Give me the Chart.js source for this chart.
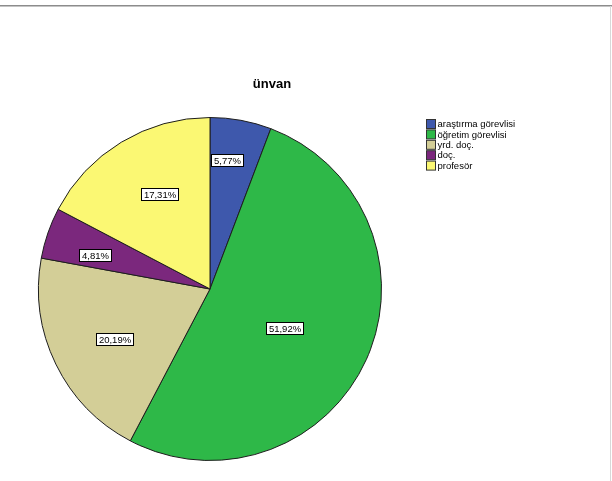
<!DOCTYPE html>
<html>
<head>
<meta charset="utf-8">
<title>ünvan</title>
<script src="https://cdn.jsdelivr.net/npm/chart.js@4/dist/chart.umd.min.js"></script>
<style>
    html, body {
        margin: 0;
        padding: 0;
        background: #ffffff;
    }
    #wrap {
        position: relative;
        width: 612px;
        height: 481px;
    }
</style>
</head>
<body>
<div id="wrap">
    <canvas id="pieChart" width="612" height="481"></canvas>
</div>
<script>
/*
  ünvan - pie chart
*/

const chartTitle = "ünvan"

const categories = [
    "araştırma görevlisi",
    "öğretim görevlisi",
    "yrd. doç.",
    "doç.",
    "profesör"
]

// frequencies (n = 104)
const counts = [6, 54, 21, 5, 18]

const sliceColors = ["#3e58ac", "#2eb848", "#d3ce97", "#7b287d", "#fbf873"]

// where each percent box sits inside its slice: [share of the arc, share of the radius]
const labelPlacement = [
    [0.36, 0.76],
    [0.52, 0.49],
    [0.48, 0.63],
    [0.35, 0.70],
    [0.55, 0.63]
]

const total = counts.reduce((a, b) => a + b, 0)

function percentText(v) {
    return (v / total * 100).toFixed(2).replace(".", ",") + "%"
}

const FONT = "'Liberation Sans', Arial, sans-serif"

const framePlugin = {
    id: "frame",
    beforeDraw(chart) {
        const ctx = chart.ctx
        ctx.save()
        ctx.fillStyle = "#ffffff"
        ctx.fillRect(0, 0, chart.width, chart.height)

        ctx.fillStyle = "#8c8c8c"
        ctx.fillRect(0, 5, chart.width, 1)
        ctx.fillStyle = "#c4c4c4"
        ctx.fillRect(0, 6, chart.width, 1)

        ctx.fillStyle = "#d8d8d8"
        ctx.fillRect(610, 6, 1, chart.height - 6)
        ctx.restore()
    }
}

const decorPlugin = {
    id: "decor",
    afterDraw(chart) {
        const ctx = chart.ctx
        ctx.save()

        // title
        ctx.fillStyle = "#000000"
        ctx.font = "bold 13px " + FONT
        ctx.textAlign = "center"
        ctx.textBaseline = "middle"
        ctx.fillText(chartTitle, 272, 84)

        // legend
        ctx.font = "9.5px " + FONT
        ctx.textAlign = "left"
        categories.forEach((name, i) => {
            const y = 124 + i * 10.4
            ctx.fillStyle = sliceColors[i]
            ctx.fillRect(426.5, y - 4.5, 9, 9)
            ctx.strokeStyle = "#333333"
            ctx.lineWidth = 1
            ctx.strokeRect(426.5, y - 4.5, 9, 9)
            ctx.fillStyle = "#000000"
            ctx.fillText(name, 437.5, y + 0.5)
        })

        // percent boxes
        const meta = chart.getDatasetMeta(0)
        ctx.font = "9.5px " + FONT
        ctx.textAlign = "center"
        meta.data.forEach((arc, i) => {
            const p = arc.getProps(["x", "y", "startAngle", "endAngle", "outerRadius"], true)
            const [t, f] = labelPlacement[i]
            const a = p.startAngle + t * (p.endAngle - p.startAngle)
            const cx = p.x + Math.cos(a) * p.outerRadius * f
            const cy = p.y + Math.sin(a) * p.outerRadius * f
            const txt = percentText(counts[i])
            const w = Math.round(ctx.measureText(txt).width + 5)
            const h = 12
            const bx = Math.round(cx - w / 2) + 0.5
            const by = Math.round(cy - h / 2) + 0.5
            ctx.fillStyle = "#ffffff"
            ctx.fillRect(bx, by, w, h)
            ctx.strokeStyle = "#000000"
            ctx.lineWidth = 1
            ctx.strokeRect(bx, by, w, h)
            ctx.fillStyle = "#000000"
            ctx.fillText(txt, bx + w / 2, by + h / 2 + 0.5)
        })

        ctx.restore()
    }
}

const ChartManager = {

    chart: null,

    init() {

        const canvas = document.getElementById("pieChart")

        if (!canvas) {
            return
        }

        this.chart = new Chart(canvas, {

            type: "pie",

            data: {
                labels: categories,
                datasets: [
                    {
                        data: counts,
                        backgroundColor: sliceColors,
                        borderColor: "#1e1e1e",
                        borderWidth: 1
                    }
                ]
            },

            options: {
                responsive: false,
                animation: false,
                layout: {
                    padding: { left: 38, right: 230, top: 117, bottom: 20 }
                },
                plugins: {
                    legend: { display: false },
                    title: { display: false },
                    tooltip: { enabled: false }
                }
            },

            plugins: [framePlugin, decorPlugin]
        })
    }
}

window.addEventListener("load", () => {
    ChartManager.init()
})
</script>
</body>
</html>
